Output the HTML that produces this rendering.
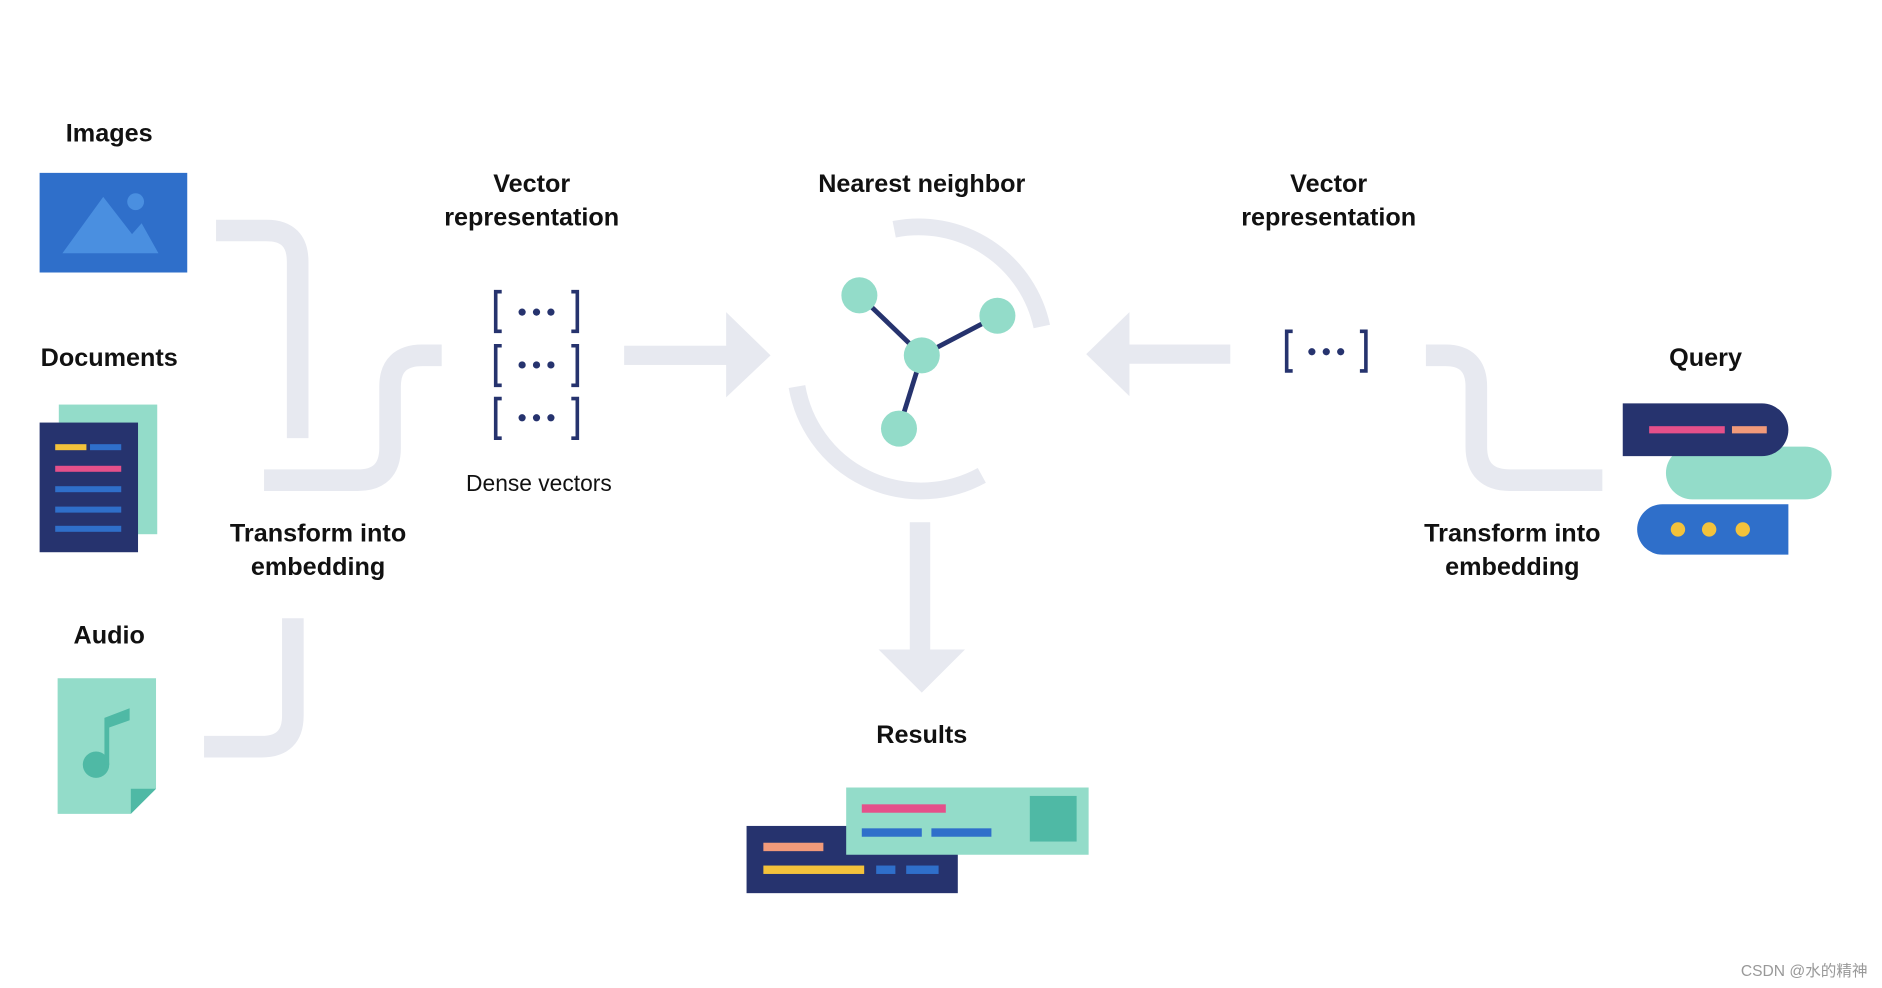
<!DOCTYPE html>
<html><head><meta charset="utf-8"><style>
html,body{margin:0;padding:0;background:#fff;width:1882px;height:988px;overflow:hidden}
svg{display:block}
text{font-family:"Liberation Sans","Noto Sans CJK SC",sans-serif;fill:#111}
.b{font-weight:bold;font-size:21px}
</style></head><body>
<svg width="1882" height="988" viewBox="0 0 1568 823" preserveAspectRatio="none">
<g fill="none" stroke="#e7e9f0" stroke-width="18" stroke-linecap="butt">
<path d="M180 192 H222 Q248 192 248 218 V365"/>
<path d="M220 400 H298 Q325 400 325 373 V322 Q325 296 352 296 H368"/>
<path d="M170 622 H218 Q244 622 244 596 V515"/>
<path d="M1188 296 H1204 Q1230 296 1230 322 V372 Q1230 400 1258 400 H1335"/>
<path d="M745 191 A105 105 0 0 1 868 272" stroke-width="14"/>
<path d="M664 322 A105 105 0 0 0 818 396" stroke-width="14"/>
</g>
<g fill="#e7e9f0">
<rect x="520" y="288" width="90" height="16"/>
<polygon points="605,260 642,296 605,331"/>
<rect x="935" y="287" width="90" height="16"/>
<polygon points="941,260 905,295 941,330"/>
<rect x="758" y="435" width="17" height="110"/>
<polygon points="732,541 804,541 768,577"/>
</g>
<text class="b" x="91" y="118" text-anchor="middle">Images</text>
<rect x="33" y="144" width="123" height="83" fill="#2f6fca"/>
<polygon points="52,211 86,164 110,195 118,186 132,211" fill="#4a8fe0"/>
<circle cx="113" cy="168" r="7" fill="#4a8fe0"/>
<text class="b" x="91" y="305" text-anchor="middle">Documents</text>
<rect x="49" y="337" width="82" height="108" fill="#93dcc9"/>
<rect x="33" y="352" width="82" height="108" fill="#26336e"/>
<rect x="46" y="370" width="26" height="5" fill="#f3c23b"/>
<rect x="75" y="370" width="26" height="5" fill="#2f6fca"/>
<rect x="46" y="388" width="55" height="5" fill="#e5508a"/>
<rect x="46" y="405" width="55" height="5" fill="#2f6fca"/>
<rect x="46" y="422" width="55" height="5" fill="#2f6fca"/>
<rect x="46" y="438" width="55" height="5" fill="#2f6fca"/>
<text class="b" x="91" y="536" text-anchor="middle">Audio</text>
<polygon points="48,565 130,565 130,657 109,678 48,678" fill="#93dcc9"/>
<polygon points="130,657 109,678 109,657" fill="#4fb9a5"/>
<circle cx="80" cy="637" r="11" fill="#4fb9a5"/>
<polygon points="87,637 91,637 91,606 108,600 108,590 87,598" fill="#4fb9a5"/>
<text class="b" x="265" y="451" text-anchor="middle">Transform into</text>
<text class="b" x="265" y="479" text-anchor="middle">embedding</text>
<text class="b" x="443" y="160" text-anchor="middle">Vector</text>
<text class="b" x="443" y="188" text-anchor="middle">representation</text>
<g stroke="#26336e" stroke-width="3" fill="none">
<path d="M418 243 H413 V276 H418 M476 243 H481 V276 H476"/>
<path d="M418 288 H413 V321 H418 M476 288 H481 V321 H476"/>
<path d="M418 332 H413 V365 H418 M476 332 H481 V365 H476"/>
<path d="M1077 276 H1072 V309 H1077 M1133 276 H1138 V309 H1133"/>
</g>
<g fill="#26336e">
<circle cx="435" cy="260" r="3"/><circle cx="447" cy="260" r="3"/><circle cx="459" cy="260" r="3"/>
<circle cx="435" cy="304" r="3"/><circle cx="447" cy="304" r="3"/><circle cx="459" cy="304" r="3"/>
<circle cx="435" cy="348" r="3"/><circle cx="447" cy="348" r="3"/><circle cx="459" cy="348" r="3"/>
<circle cx="1093" cy="293" r="3"/><circle cx="1105" cy="293" r="3"/><circle cx="1117" cy="293" r="3"/>
</g>
<text x="449" y="409" text-anchor="middle" font-size="19">Dense vectors</text>
<text class="b" x="768" y="160" text-anchor="middle">Nearest neighbor</text>
<g stroke="#26336e" stroke-width="4">
<line x1="716" y1="246" x2="768" y2="296"/><line x1="831" y1="263" x2="768" y2="296"/><line x1="749" y1="357" x2="768" y2="296"/>
</g>
<g fill="#93dcc9">
<circle cx="716" cy="246" r="15"/><circle cx="831" cy="263" r="15"/><circle cx="768" cy="296" r="15"/><circle cx="749" cy="357" r="15"/>
</g>
<text class="b" x="1107" y="160" text-anchor="middle">Vector</text>
<text class="b" x="1107" y="188" text-anchor="middle">representation</text>
<text class="b" x="1260" y="451" text-anchor="middle">Transform into</text>
<text class="b" x="1260" y="479" text-anchor="middle">embedding</text>
<text class="b" x="1421" y="305" text-anchor="middle">Query</text>
<rect x="1388" y="372" width="138" height="44" rx="22" fill="#93dcc9"/>
<path d="M1352 336 H1468 A22 22 0 0 1 1468 380 H1352 Z" fill="#26336e"/>
<rect x="1374" y="355" width="63" height="6" fill="#e5508a"/>
<rect x="1443" y="355" width="29" height="6" fill="#f19a7a"/>
<path d="M1363 420 H1490 V462 H1385 A21 21 0 0 1 1385 420 Z" fill="#2f6fca"/>
<g fill="#f3c23b"><circle cx="1398" cy="441" r="6"/><circle cx="1424" cy="441" r="6"/><circle cx="1452" cy="441" r="6"/></g>
<text class="b" x="768" y="619" text-anchor="middle">Results</text>
<rect x="622" y="688" width="176" height="56" fill="#26336e"/>
<rect x="636" y="702" width="50" height="7" fill="#f19a7a"/>
<rect x="636" y="721" width="84" height="7" fill="#f3c23b"/>
<rect x="730" y="721" width="16" height="7" fill="#2f6fca"/>
<rect x="755" y="721" width="27" height="7" fill="#2f6fca"/>
<rect x="705" y="656" width="202" height="56" fill="#93dcc9"/>
<rect x="858" y="663" width="39" height="38" fill="#4fb9a5"/>
<rect x="718" y="670" width="70" height="7" fill="#e5508a"/>
<rect x="718" y="690" width="50" height="7" fill="#2f6fca"/>
<rect x="776" y="690" width="50" height="7" fill="#2f6fca"/>
<text x="1556" y="813" text-anchor="end" font-size="13" style="fill:#999">CSDN @水的精神</text>
</svg>
</body></html>
